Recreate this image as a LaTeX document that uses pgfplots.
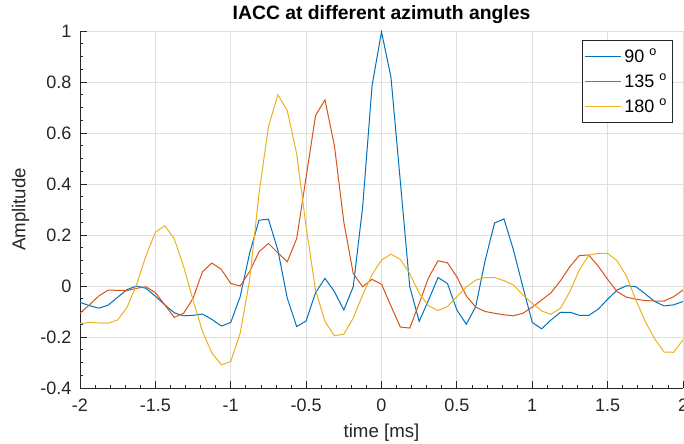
\documentclass[border=0pt]{standalone}
\usepackage{fontspec}
\setmainfont{Liberation Sans}
\usepackage{pgfplots}
\usepackage{pgfplotstable}
\pgfplotsset{compat=1.18}
\usetikzlibrary{calc}
\definecolor{mblue}{rgb}{0,0.447,0.741}
\definecolor{morange}{rgb}{0.85,0.325,0.098}
\definecolor{myellow}{rgb}{0.929,0.694,0.125}
\definecolor{axgray}{rgb}{0.15,0.15,0.15}
\definecolor{gridgray}{rgb}{0.875,0.875,0.875}

\pgfplotstableread{
t a b c
-2.0000 -0.064 -0.107 -0.148
-1.9375 -0.077 -0.074 -0.143
-1.8750 -0.087 -0.039 -0.145
-1.8125 -0.075 -0.016 -0.146
-1.7500 -0.044 -0.017 -0.133
-1.6875 -0.014 -0.018 -0.083
-1.6250 0.000 -0.009 0.005
-1.5625 -0.009 -0.003 0.118
-1.5000 -0.040 -0.026 0.211
-1.4375 -0.074 -0.074 0.236
-1.3750 -0.105 -0.123 0.186
-1.3125 -0.117 -0.107 0.076
-1.2500 -0.115 -0.048 -0.055
-1.1875 -0.110 0.056 -0.178
-1.1250 -0.131 0.090 -0.263
-1.0625 -0.157 0.065 -0.309
-1.0000 -0.143 0.010 -0.296
-0.9375 -0.042 0.000 -0.185
-0.8750 0.128 0.056 0.023
-0.8125 0.258 0.134 0.362
-0.7500 0.262 0.167 0.625
-0.6875 0.141 0.130 0.750
-0.6250 -0.048 0.095 0.688
-0.5625 -0.159 0.186 0.518
-0.5000 -0.137 0.427 0.232
-0.4375 -0.026 0.668 -0.016
-0.3750 0.030 0.730 -0.139
-0.3125 -0.022 0.551 -0.195
-0.2500 -0.094 0.251 -0.189
-0.1875 -0.003 0.049 -0.126
-0.1250 0.310 -0.003 -0.035
-0.0625 0.786 0.026 0.045
0.0000 0.997 0.007 0.102
0.0625 0.820 -0.078 0.125
0.1250 0.409 -0.161 0.104
0.1875 -0.003 -0.165 0.049
0.2500 -0.139 -0.068 -0.029
0.3125 -0.055 0.033 -0.078
0.3750 0.033 0.099 -0.096
0.4375 0.010 0.091 -0.081
0.5000 -0.094 0.036 -0.042
0.5625 -0.150 -0.039 -0.003
0.6250 -0.081 -0.083 0.023
0.6875 0.100 -0.100 0.033
0.7500 0.247 -0.107 0.033
0.8125 0.263 -0.113 0.021
0.8750 0.142 -0.117 0.004
0.9375 -0.003 -0.107 -0.035
1.0000 -0.143 -0.083 -0.068
1.0625 -0.168 -0.055 -0.098
1.1250 -0.133 -0.026 -0.111
1.1875 -0.103 0.021 -0.087
1.2500 -0.103 0.076 -0.022
1.3125 -0.115 0.120 0.063
1.3750 -0.115 0.121 0.121
1.4375 -0.091 0.078 0.128
1.5000 -0.052 0.026 0.128
1.5625 -0.016 -0.022 0.099
1.6250 0.001 -0.044 0.039
1.6875 -0.003 -0.052 -0.055
1.7500 -0.031 -0.057 -0.139
1.8125 -0.061 -0.059 -0.208
1.8750 -0.078 -0.059 -0.259
1.9375 -0.074 -0.042 -0.260
2.0000 -0.061 -0.016 -0.211
}\iacc

\begin{document}
\begin{tikzpicture}
\begin{axis}[
  name=ax,
  scale only axis,
  width=452.25pt, height=267.75pt,
  xmin=-2, xmax=2, ymin=-0.4, ymax=1,
  xtick={-2,-1.5,...,2},
  ytick={-0.4,-0.2,0,0.2,0.4,0.6,0.8,1},
  yticklabels={-0.4,-0.2,0,0.2,0.4,0.6,0.8,1},
  xticklabels={-2,-1.5,-1,-0.5,0,0.5,1,1.5,2},
  minor x tick num=4,
  minor y tick num=3,
  axis x line*=bottom,
  axis y line*=left,
  axis line style={axgray, line width=0.6pt},
  tick align=inside,
  major tick length=5pt,
  minor tick length=2.6pt,
  tick style={axgray, line width=0.6pt},
  grid=major,
  major grid style={gridgray, line width=0.6pt},
  ticklabel style={font=\fontsize{13.5}{15}\selectfont, text=axgray},
  xticklabel style={anchor=base, yshift=-18pt},
  yticklabel style={xshift=-3pt},
  /pgf/number format/assume math mode=true,
  title={\textbf{IACC at different azimuth angles}},
  title style={font=\fontsize{14.5}{16}\selectfont, at={(axis description cs:0.5,1.0099)}, anchor=base},
  xlabel={time [ms]},
  ylabel={Amplitude},
  label style={font=\fontsize{14}{16}\selectfont, text=axgray},
  xlabel style={at={(axis description cs:0.5,-0.1373)}, anchor=base},
  ylabel style={at={(axis description cs:-0.0907,0.5)}, anchor=base},
  legend style={at={(0.983,0.975)}, anchor=north east, draw=axgray, line width=0.6pt,
    font=\fontsize{13.5}{15}\selectfont, row sep=3pt, inner xsep=2pt, inner ysep=4pt},
  legend cell align=left,
  legend image code/.code={\draw[#1] (0pt,0pt) -- (27pt,0pt);},
  every axis plot/.append style={line width=0.75pt},
]
\addplot[mblue] table[x=t, y=a] {\iacc};
\addlegendentry{90 \textsuperscript{o}}
\addplot[morange] table[x=t, y=b] {\iacc};
\addlegendentry{135 \textsuperscript{o}}
\addplot[myellow] table[x=t, y=c] {\iacc};
\addlegendentry{180 \textsuperscript{o}}
\end{axis}
\pgfresetboundingbox
\path ($(ax.south west)+(-60pt,-42pt)$) rectangle ($(ax.north east)+(0.75pt,23.25pt)$);
\end{tikzpicture}
\end{document}
